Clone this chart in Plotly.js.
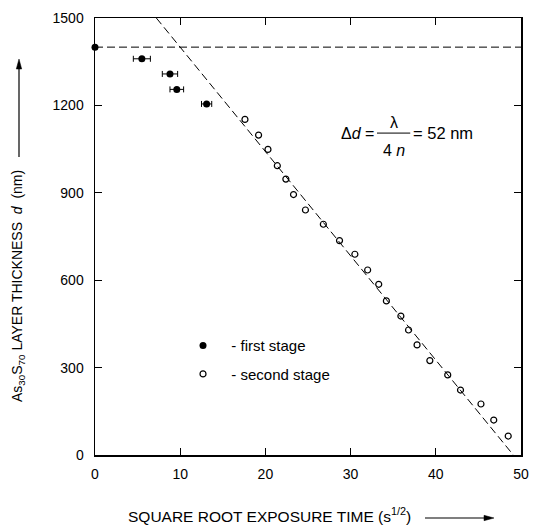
<!DOCTYPE html>
<html>
<head>
<meta charset="utf-8">
<script src="https://cdn.plot.ly/plotly-3.0.1.min.js"></script>
<style>html,body{margin:0;padding:0;background:#fff;}#chart{width:533px;height:528px;}</style>
</head>
<body>
<div id="chart"></div>
<script>
// First stage (filled circles) with horizontal error bars
var stage1X = [0, 5.5, 8.8, 9.6, 13.1];
var stage1Y = [1400, 1360, 1308, 1255, 1205];
var stage1Err = [0, 1.0, 0.9, 0.8, 0.6];

// Second stage (open circles)
var stage2X = [17.6, 19.2, 20.3, 21.4, 22.4, 23.3, 24.7, 26.8, 28.7, 30.5, 32.0, 33.3, 34.2, 35.9, 36.8, 37.8, 39.3, 41.4, 42.9, 45.3, 46.8, 48.5];
var stage2Y = [1152, 1098, 1049, 993, 947, 894, 841, 792, 736, 689, 635, 586, 529, 477, 429, 378, 324, 275, 223, 175, 120, 65];

// Linear fit through second stage (dashed)
var fitX = [7.2, 49.1];
var fitY = [1500, 0];

// Initial thickness level (dashed horizontal)
var levelX = [0, 50];
var levelY = [1400, 1400];

var xTicks = [0, 10, 20, 30, 40, 50];
var yTicks = [0, 300, 600, 900, 1200, 1500];

var FONT = 'Liberation Sans, Arial, Helvetica, sans-serif';

var traces = [
  {x: levelX, y: levelY, mode: 'lines', showlegend: false, hoverinfo: 'skip',
   line: {color: '#000', width: 1, dash: '8px,4px'}},
  {x: fitX, y: fitY, mode: 'lines', showlegend: false, hoverinfo: 'skip',
   line: {color: '#000', width: 1, dash: '8px,4px'}},
  {x: stage1X, y: stage1Y, mode: 'markers', name: '\u00a0\u00a0- first stage', legendgroup: 'a',
   marker: {color: '#000', size: 7, symbol: 'circle'},
   error_x: {type: 'data', array: stage1Err, visible: true, color: '#000', thickness: 1, width: 3},
   cliponaxis: false},
  {x: stage2X, y: stage2Y, mode: 'markers', name: '\u00a0\u00a0- second stage', legendgroup: 'b',
   marker: {color: '#000', size: 6, symbol: 'circle-open', line: {color: '#000', width: 1.2}},
   cliponaxis: false}
];

var axisCommon = {
  showline: true, linecolor: '#000', linewidth: 1.5, mirror: 'ticks',
  ticks: 'inside', ticklen: 7, tickwidth: 1.2, tickcolor: '#000',
  showgrid: false, zeroline: false,
  tickfont: {family: FONT, size: 14, color: '#000'}
};

function px2x(p) { return (p - 95) / 426; }
function px2y(p) { return (455 - p) / 437; }

var layout = {
  width: 533, height: 528,
  margin: {l: 95, r: 12, t: 18, b: 73},
  paper_bgcolor: '#fff', plot_bgcolor: '#fff',
  font: {family: FONT, color: '#000'},
  xaxis: Object.assign({}, axisCommon, {range: [0, 50], tickvals: xTicks, ticktext: xTicks.map(String), ticklabelstandoff: 6}),
  yaxis: Object.assign({}, axisCommon, {range: [0, 1500], tickvals: yTicks, ticktext: yTicks.map(String), ticklabelstandoff: 7}),
  showlegend: true,
  legend: {x: 0.2066, y: 0.288, xanchor: 'left', yanchor: 'top', bgcolor: 'rgba(0,0,0,0)',
           borderwidth: 0, traceorder: 'grouped', tracegroupgap: 6,
           font: {family: FONT, size: 15, color: '#000'}},
  shapes: [
    // fraction bar
    {type: 'line', xref: 'x', yref: 'y', x0: 33.1, x1: 37.0, y0: 1105, y1: 1105,
     line: {color: '#000', width: 1}},
    // y-title arrow
    {type: 'line', xref: 'paper', yref: 'paper', x0: px2x(19), x1: px2x(19), y0: px2y(157), y1: px2y(67),
     line: {color: '#000', width: 1.2}},
    {type: 'path', xref: 'paper', yref: 'paper',
     path: 'M ' + px2x(19) + ' ' + px2y(59) + ' L ' + px2x(16.3) + ' ' + px2y(69) + ' L ' + px2x(21.7) + ' ' + px2y(69) + ' Z',
     fillcolor: '#000', line: {color: '#000', width: 0.5}},
    // x-title arrow
    {type: 'line', xref: 'paper', yref: 'paper', x0: px2x(425), x1: px2x(486), y0: px2y(518), y1: px2y(518),
     line: {color: '#000', width: 1.2}},
    {type: 'path', xref: 'paper', yref: 'paper',
     path: 'M ' + px2x(494) + ' ' + px2y(518) + ' L ' + px2x(484) + ' ' + px2y(515.3) + ' L ' + px2x(484) + ' ' + px2y(520.7) + ' Z',
     fillcolor: '#000', line: {color: '#000', width: 0.5}}
  ],
  annotations: [
    {xref: 'paper', yref: 'paper', x: px2x(18), y: px2y(286), textangle: -90, showarrow: false,
     xanchor: 'center', yanchor: 'middle',
     text: 'As<sub>30</sub>S<sub>70</sub> LAYER THICKNESS\u00a0\u00a0<i>d</i>\u00a0\u00a0(nm)',
     font: {family: FONT, size: 14, color: '#000'}},
    {xref: 'paper', yref: 'paper', x: px2x(269), y: px2y(515), showarrow: false,
     xanchor: 'center', yanchor: 'middle',
     text: 'SQUARE ROOT EXPOSURE TIME (s<sup>1/2</sup>)',
     font: {family: FONT, size: 15.5, color: '#000'}},
    {xref: 'x', yref: 'y', x: 33.0, y: 1105, xanchor: 'right', yanchor: 'middle', showarrow: false,
     text: '\u0394<i>d</i> =', font: {family: FONT, size: 16, color: '#000'}},
    {xref: 'x', yref: 'y', x: 35.06, y: 1142, xanchor: 'center', yanchor: 'middle', showarrow: false,
     text: '\u03bb', font: {family: FONT, size: 16, color: '#000'}},
    {xref: 'x', yref: 'y', x: 35.06, y: 1045, xanchor: 'center', yanchor: 'middle', showarrow: false,
     text: '4 <i>n</i>', font: {family: FONT, size: 16, color: '#000'}},
    {xref: 'x', yref: 'y', x: 37.1, y: 1105, xanchor: 'left', yanchor: 'middle', showarrow: false,
     text: '= 52 nm', font: {family: FONT, size: 16.5, color: '#000'}}
  ]
};

Plotly.newPlot('chart', traces, layout, {displayModeBar: false, staticPlot: true});
</script>
</body>
</html>
